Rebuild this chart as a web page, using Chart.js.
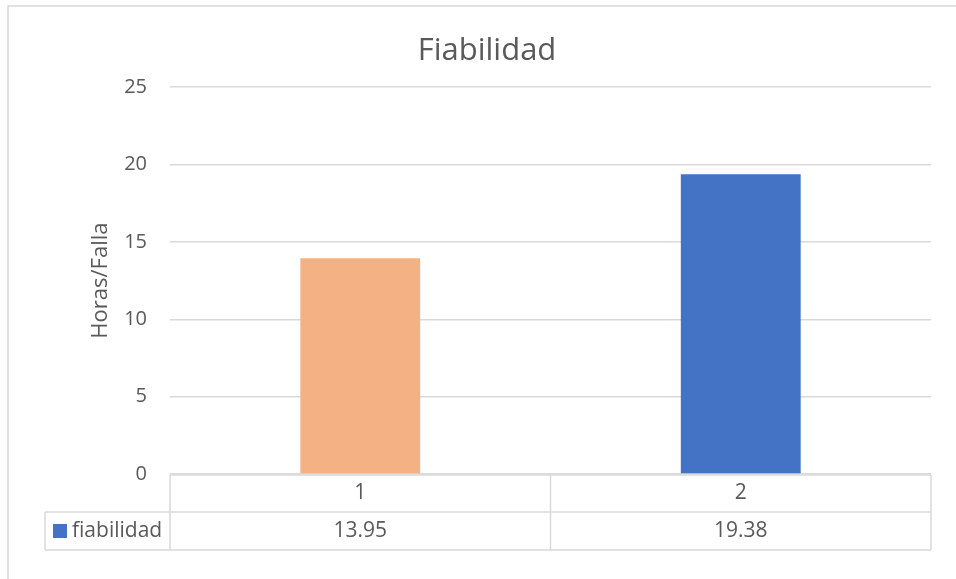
<!DOCTYPE html>
<html>
<head>
<meta charset="utf-8">
<script src="https://cdn.jsdelivr.net/npm/chart.js@4"></script>
<style>
    html, body { margin: 0; padding: 0; background: #fff; }
    #wrap { width: 956px; height: 579px; }
</style>
</head>
<body>
<div id="wrap"><canvas id="chart" width="956" height="579"></canvas></div>
<script>
// datos del gráfico
const categories = ['1', '2'];
const seriesName = 'fiabilidad';
const values = [13.95, 19.38];
const barColors = ['#F4B183', '#4472C4'];
const legendColor = '#4472C4';
const yMax = 25;
const yStep = 5;

const textColor = '#595959';
const lineColor = '#d9d9d9';
const fontFamily = '"Open Sans", "Liberation Sans", sans-serif';

// marco + tabla de datos bajo el eje
const tablePlugin = {
    id: 'dataTable',
    afterDraw(chart) {
        const ctx = chart.ctx;
        const area = chart.chartArea;
        const x = chart.scales.x;

        const top = area.bottom + 1;
        const rowMid = top + 37;
        const bottom = rowMid + 38;
        const legendLeft = 45;
        const bounds = [area.left];
        for (let i = 0; i < categories.length - 1; i++) {
            bounds.push((x.getPixelForValue(i) + x.getPixelForValue(i + 1)) / 2);
        }
        bounds.push(area.right);

        ctx.save();
        ctx.strokeStyle = lineColor;
        ctx.lineWidth = 1.5;

        // marco del gráfico
        ctx.beginPath();
        ctx.moveTo(8, chart.height);
        ctx.lineTo(8, 6);
        ctx.lineTo(chart.width, 6);
        ctx.stroke();

        // líneas de la tabla
        ctx.beginPath();
        ctx.moveTo(area.left, top);
        ctx.lineTo(area.right, top);
        ctx.moveTo(legendLeft, rowMid);
        ctx.lineTo(area.right, rowMid);
        ctx.moveTo(legendLeft, bottom);
        ctx.lineTo(area.right, bottom);
        ctx.moveTo(legendLeft, rowMid);
        ctx.lineTo(legendLeft, bottom);
        bounds.forEach(b => {
            ctx.moveTo(b, top);
            ctx.lineTo(b, bottom);
        });
        ctx.stroke();

        // textos
        ctx.fillStyle = textColor;
        ctx.font = '21px ' + fontFamily;
        ctx.textAlign = 'center';
        ctx.textBaseline = 'middle';
        categories.forEach((c, i) => {
            const cx = (bounds[i] + bounds[i + 1]) / 2;
            ctx.fillText(c, cx, (top + rowMid) / 2);
            ctx.fillText(String(values[i]), cx, (rowMid + bottom) / 2);
        });

        // leyenda
        ctx.fillStyle = legendColor;
        ctx.fillRect(53, 524, 14, 14);
        ctx.fillStyle = textColor;
        ctx.textAlign = 'left';
        ctx.fillText(seriesName, 72, (rowMid + bottom) / 2);
        ctx.restore();
    }
};

new Chart(document.getElementById('chart').getContext('2d'), {
    type: 'bar',
    data: {
        labels: categories,
        datasets: [{
            label: seriesName,
            data: values,
            backgroundColor: barColors,
            borderWidth: 0,
            categoryPercentage: 1,
            barPercentage: 0.315
        }]
    },
    options: {
        responsive: false,
        animation: false,
        layout: {
            padding: { top: 7, left: 43, right: 25, bottom: 105 }
        },
        plugins: {
            legend: { display: false },
            tooltip: { enabled: false },
            title: {
                display: true,
                text: 'Fiabilidad',
                color: textColor,
                font: { family: fontFamily, size: 31, weight: 'normal' },
                padding: { top: 26, bottom: 17 }
            }
        },
        scales: {
            x: {
                display: false
            },
            y: {
                min: 0,
                max: yMax,
                ticks: {
                    stepSize: yStep,
                    padding: 23,
                    color: textColor,
                    font: { family: fontFamily, size: 20 }
                },
                grid: {
                    color: lineColor,
                    lineWidth: 1.5,
                    drawTicks: false
                },
                border: { display: false },
                title: {
                    display: true,
                    text: 'Horas/Falla',
                    color: textColor,
                    font: { family: fontFamily, size: 22 },
                    padding: { top: 45, bottom: 0 }
                },
                afterFit(scale) {
                    scale.width = 127;
                }
            }
        }
    },
    plugins: [tablePlugin]
});
</script>
</body>
</html>
